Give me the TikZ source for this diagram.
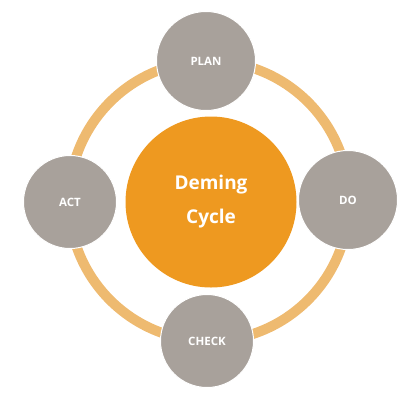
\documentclass[tikz,border=0pt]{standalone}
\usepackage{fontspec}
\setmainfont{Open Sans}
\usepackage{tikz}
\usepackage{xcolor}
\usetikzlibrary{positioning, calc}
\definecolor{hub}{RGB}{238, 153, 32}
\definecolor{ring}{RGB}{238, 186, 112}
\definecolor{phase}{RGB}{168, 161, 155}

\begin{document}
\begin{tikzpicture}[
    x=1pt, y=-1pt,
    phase/.style={
        circle, fill=phase, draw=white, line width=1pt,
        minimum size=99pt, inner sep=0pt,
        text=white, font=\fontsize{11.5}{13}\selectfont\bfseries
    },
    hub/.style={
        circle, fill=hub, minimum size=171pt, inner sep=0pt,
        text=white, align=center,
        font=\fontsize{19}{34}\selectfont\bfseries
    }
]
\useasboundingbox (0,0) rectangle (401,394);

% Ring behind everything
\draw[ring, line width=10pt] (209,201) circle (140pt);

% Centre
\node[hub] (deming) at (211,202) {Deming\\Cycle};

% The four phases
\node[phase] (plan)  at (206,61)  {PLAN};
\node[phase] (do)    at (348,200) {DO};
\node[phase, minimum size=93pt] (check) at (207,341) {CHECK};
\node[phase, minimum size=93pt] (act)   at (70,202)  {ACT};

\end{tikzpicture}
\end{document}
